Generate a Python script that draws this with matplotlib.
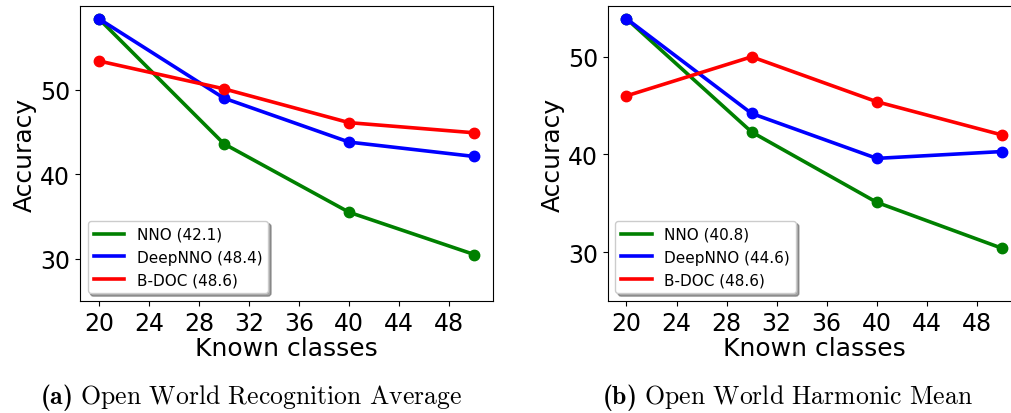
import matplotlib
matplotlib.use("Agg")
import matplotlib.pyplot as plt
import numpy as np

plt.rcParams['mathtext.fontset'] = 'custom'
plt.rcParams['mathtext.rm'] = 'cmr10'
plt.rcParams['mathtext.bf'] = 'cmb10'

known_classes = [20, 30, 40, 50]
x_ticks = [20, 24, 28, 32, 36, 40, 44, 48]
y_ticks = [30, 40, 50]

# Open World Recognition Average
owr_nno = [58.4, 43.6, 35.5, 30.5]
owr_deepnno = [58.4, 49.0, 43.8, 42.1]
owr_bdoc = [53.4, 50.1, 46.1, 44.9]
owr_labels = ['NNO (42.1)', 'DeepNNO (48.4)', 'B-DOC (48.6)']

# Open World Harmonic Mean
hm_nno = [53.9, 42.3, 35.1, 30.4]
hm_deepnno = [53.9, 44.2, 39.6, 40.3]
hm_bdoc = [46.0, 50.0, 45.4, 42.0]
hm_labels = ['NNO (40.8)', 'DeepNNO (44.6)', 'B-DOC (48.6)']

colors = ['green', 'blue', 'red']

W, H = 1011, 414
fig = plt.figure(figsize=(W / 100, H / 100), dpi=100)
ax1 = fig.add_axes([80 / W, 112 / H, 413 / W, 295 / H])
ax2 = fig.add_axes([607.7 / W, 112 / H, 413 / W, 295 / H])


def draw(ax, series, labels, top):
    for vals, lab, c in zip(series, labels, colors):
        ax.plot(known_classes, vals, color=c, lw=2.6, label=lab)
        ax.plot(known_classes, vals, 'o', color=c, ms=7.5)
    ax.set_xlim(18.5, 51.5)
    ax.set_ylim(25, top)
    ax.set_xticks(x_ticks)
    ax.set_yticks(y_ticks)
    ax.tick_params(labelsize=17)
    ax.set_xlabel('Known classes', fontsize=18, labelpad=1)
    ax.set_ylabel('Accuracy', fontsize=18, labelpad=2)
    ax.legend(loc='lower left', fontsize=11, shadow=True, fancybox=True,
              framealpha=1, labelspacing=0.5)


draw(ax1, [owr_nno, owr_deepnno, owr_bdoc], owr_labels, 59.9)
draw(ax2, [hm_nno, hm_deepnno, hm_bdoc], hm_labels, 55.2)

fig.text(251 / W, 1 - 398 / H,
         r'$\mathbf{(a)}$ $\mathrm{Open\ World\ Recognition\ Average}$',
         ha='center', va='center', fontsize=18.5)
fig.text(787 / W, 1 - 398 / H,
         r'$\mathbf{(b)}$ $\mathrm{Open\ World\ Harmonic\ Mean}$',
         ha='center', va='center', fontsize=18.5)

fig.savefig('out.png', dpi=100)
